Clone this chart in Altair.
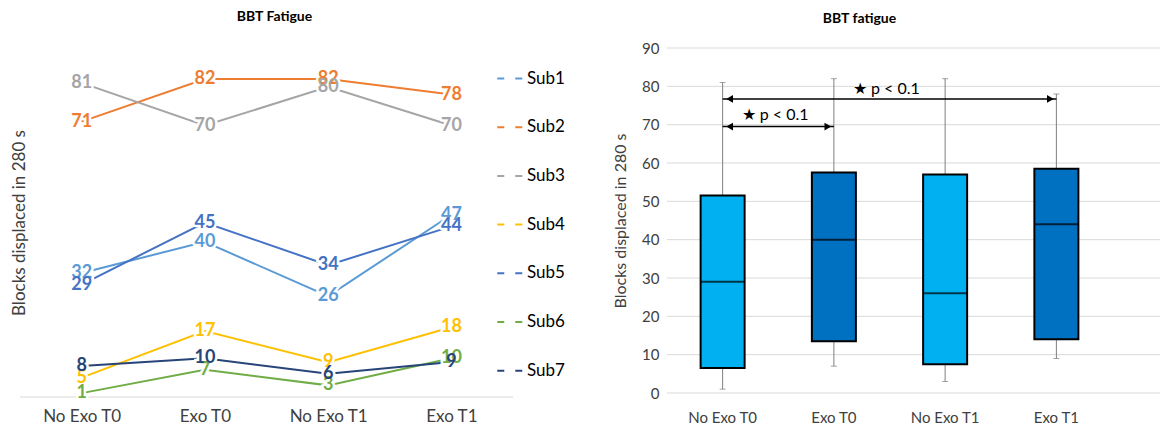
import altair as alt
import pandas as pd

conditions = ["No Exo T0", "Exo T0", "No Exo T1", "Exo T1"]
subjects = ["Sub1", "Sub2", "Sub3", "Sub4", "Sub5", "Sub6", "Sub7"]
sub1 = [32, 40, 26, 47]
sub2 = [71, 82, 82, 78]
sub3 = [81, 70, 80, 70]
sub4 = [5, 17, 9, 18]
sub5 = [29, 45, 34, 44]
sub6 = [1, 7, 3, 10]
sub7 = [8, 10, 6, 9]
series = [sub1, sub2, sub3, sub4, sub5, sub6, sub7]
sub_colors = ["#5b9bd5", "#ed7d31", "#a5a5a5", "#ffc000", "#4472c4", "#70ad47", "#264478"]
box_colors = ["#00b0f0", "#0070c0", "#00b0f0", "#0070c0"]
y_ticks = [0, 10, 20, 30, 40, 50, 60, 70, 80, 90]

ann_start = ["No Exo T0", "No Exo T0"]
ann_end = ["Exo T0", "Exo T1"]
ann_arrow_y = [69.5, 76.7]
ann_text_x = ["No Exo T0", "Exo T0"]
ann_text_y = [72.6, 79.2]
ann_text = ["\u2605 p < 0.1", "\u2605 p < 0.1"]

rows = []
for s, vals in zip(subjects, series):
    for c, v in zip(conditions, vals):
        rows.append({"subject": s, "condition": c, "value": v})
df = pd.DataFrame(rows)
ann = pd.DataFrame({"start": ann_start, "end": ann_end, "ay": ann_arrow_y,
                    "tx": ann_text_x, "ty": ann_text_y, "label": ann_text})
ticks_df = pd.DataFrame({"tick": y_ticks})

FONT = "Lato"
TXT = "#404040"

# ---------------- left chart ----------------
xl = alt.X("condition:N", sort=conditions,
           scale=alt.Scale(type="point", domain=conditions, padding=0.5),
           axis=alt.Axis(title=None, labelAngle=0, labelFont=FONT, labelFontSize=17,
                         labelColor=TXT, domain=False, ticks=False, labelPadding=11, grid=False))
yl = alt.Y("value:Q", scale=alt.Scale(domain=[0, 90], nice=False),
           axis=alt.Axis(title="Blocks displaced in 280 s", labels=False, ticks=False,
                         domain=False, grid=False, titleFont=FONT, titleFontSize=17,
                         titleFontWeight="normal", titleColor=TXT, titlePadding=-8))
col = alt.Color("subject:N", scale=alt.Scale(domain=subjects, range=sub_colors),
                legend=alt.Legend(title=None, orient="none", legendX=476, legendY=16,
                                  symbolType="stroke", symbolDash=[7, 11], symbolStrokeWidth=2,
                                  symbolSize=700, labelFont=FONT, labelFontSize=17,
                                  labelColor="black", rowPadding=25.7, labelOffset=2))

lbase = alt.Chart(df)
baseline = alt.Chart(pd.DataFrame({"value": [0]})).mark_rule(color="#d9d9d9", strokeWidth=1).encode(y=yl)
lines = lbase.mark_line(strokeWidth=2).encode(x=xl, y=yl, color=col, detail="subject:N")
halo = lbase.mark_text(fontSize=18, fontWeight="bold", font=FONT, color="white",
                       stroke="white", strokeWidth=5).encode(x=xl, y=yl, text="value:Q")
labels = lbase.mark_text(fontSize=18, fontWeight="bold", font=FONT).encode(
    x=xl, y=yl, text="value:Q",
    color=alt.Color("subject:N", scale=alt.Scale(domain=subjects, range=sub_colors), legend=None))

left = alt.layer(baseline, lines, halo, labels).properties(
    width=493, height=349,
    title=alt.TitleParams("BBT Fatigue", font=FONT, fontSize=14, fontWeight="bold",
                          color="black", offset=24, dx=8))

# ---------------- right chart ----------------
xr = alt.X("condition:N", sort=conditions,
           scale=alt.Scale(domain=conditions, paddingInner=0, paddingOuter=0),
           axis=alt.Axis(title=None, labelAngle=0, labelFont=FONT, labelFontSize=15,
                         labelColor=TXT, domain=False, ticks=False, labelPadding=17, grid=False))
yscale = alt.Scale(domain=[0, 90], nice=False)
yaxis = alt.Axis(title="Blocks displaced in 280 s", values=y_ticks, ticks=False, domain=False,
                 grid=False, labelFont=FONT, labelFontSize=15,
                 labelColor=TXT, labelPadding=8, titleFont=FONT, titleFontSize=16,
                 titleFontWeight="normal", titleColor=TXT, titlePadding=13)


def yr(field):
    return alt.Y(field, scale=yscale, axis=yaxis)


grid = alt.Chart(ticks_df).mark_rule(color="#d9d9d9", strokeWidth=1).encode(
    y=yr("tick:Q"), x=alt.value(0), x2=alt.value(493))

agg = alt.Chart(df).transform_aggregate(
    vmin="min(value)", q1="q1(value)", med="median(value)", q3="q3(value)", vmax="max(value)",
    groupby=["condition"])

wlow = agg.mark_rule(color="#7f7f7f", strokeWidth=1).encode(x=xr, y=yr("vmin:Q"), y2="q1:Q")
whigh = agg.mark_rule(color="#7f7f7f", strokeWidth=1).encode(x=xr, y=yr("q3:Q"), y2="vmax:Q")
capl = agg.mark_tick(color="#7f7f7f", size=6, thickness=1).encode(x=xr, y=yr("vmin:Q"))
caph = agg.mark_tick(color="#7f7f7f", size=6, thickness=1).encode(x=xr, y=yr("vmax:Q"))
box = agg.mark_bar(size=44, stroke="black", strokeWidth=2).encode(
    x=xr, y=yr("q1:Q"), y2="q3:Q",
    fill=alt.Fill("condition:N", scale=alt.Scale(domain=conditions, range=box_colors), legend=None))
med = agg.mark_tick(color="black", size=44, thickness=2).encode(x=xr, y=yr("med:Q"))

annb = alt.Chart(ann)
arrow = annb.mark_rule(color="black", strokeWidth=1.5).encode(
    x=alt.X("start:N", sort=conditions, scale=alt.Scale(domain=conditions)), x2="end:N",
    y=yr("ay:Q"))
headl = annb.mark_point(shape="triangle-left", filled=True, size=60, color="black", opacity=1,
                        xOffset=7).encode(x=alt.X("start:N"), y=yr("ay:Q"))
headr = annb.mark_point(shape="triangle-right", filled=True, size=60, color="black", opacity=1,
                        xOffset=-6).encode(x=alt.X("end:N"), y=yr("ay:Q"))
atext = annb.mark_text(align="left", xOffset=19, fontSize=16, font=FONT, color="black").encode(
    x=alt.X("tx:N"), y=yr("ty:Q"), text="label:N")

right = alt.layer(grid, wlow, whigh, capl, caph, box, med, arrow, headl, headr, atext).properties(
    width=445, height=345,
    title=alt.TitleParams("BBT fatigue", font=FONT, fontSize=14, fontWeight="bold",
                          color="black", offset=15, dx=-30, frame="group"))

chart = alt.hconcat(left, right, spacing=47).resolve_scale(
    color="independent", fill="independent"
).properties(
    padding={"left": 2, "top": 2, "right": 0, "bottom": 0}
).configure(font=FONT, view=alt.ViewConfig(stroke=None))

chart.save("out.html", embed_options={"renderer": "svg", "actions": False})
